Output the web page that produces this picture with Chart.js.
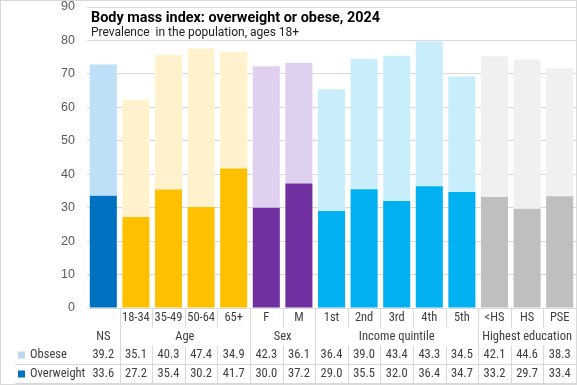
<!DOCTYPE html>
<html><head><meta charset="utf-8">
<script src="https://cdn.jsdelivr.net/npm/chart.js@4/dist/chart.umd.min.js"></script>
<style>html,body{margin:0;padding:0;background:#fff}#wrap{width:577px;height:385px;position:relative}</style>
</head><body><div id="wrap"><canvas id="c" width="577" height="385"></canvas></div>
<script>
const categories = ["NS","18-34","35-49","50-64","65+","F","M","1st","2nd","3rd","4th","5th","<HS","HS","PSE"];
const groupNames = ["", "Age", "Sex", "Income quintile", "Highest education"];
const groupOf = [0,1,1,1,1,2,2,3,3,3,3,3,4,4,4];
const obese = [39.2,35.1,40.3,47.4,34.9,42.3,36.1,36.4,39.0,43.4,43.3,34.5,42.1,44.6,38.3];
const overweight = [33.6,27.2,35.4,30.2,41.7,30.0,37.2,29.0,35.5,32.0,36.4,34.7,33.2,29.7,33.4];
const yTicks = [0,10,20,30,40,50,60,70,80,90];
const titleText = "Body mass index: overweight or obese, 2024";
const subtitleText = "Prevalence  in the population, ages 18+";

const darkColors = ["#0070C0","#FFC000","#7030A0","#00B0F0","#BFBFBF"];
const lightColors = ["#BDDFF8","#FFF2CC","#E0D0F0","#C8EEFC","#F0F0F0"];

const tableFont = "12.5px 'Liberation Sans Narrow', 'Roboto Condensed', Roboto, sans-serif";
const tableColor = "#404040";
const lineColor = "#d9d9d9";

const tablePlugin = {
  id: 'tablePlugin',
  beforeDatasetsDraw(chart) {
    const ctx = chart.ctx, y = chart.scales.y, a = chart.chartArea;
    const y90 = y.getPixelForValue(90), y80 = y.getPixelForValue(80);
    ctx.save();
    ctx.fillStyle = "#fff";
    ctx.fillRect(a.left + 1, y90 + 1, a.right - a.left - 1, y80 - y90 - 2);
    ctx.fillStyle = "#000";
    ctx.textBaseline = "middle";
    ctx.textAlign = "left";
    ctx.font = "bold 14.4px Roboto, sans-serif";
    ctx.fillText(titleText, a.left + 4, y90 + 11);
    ctx.font = "12px Roboto, sans-serif";
    ctx.fillStyle = "#222";
    ctx.fillText(subtitleText, a.left + 4, y90 + 26);
    ctx.restore();
  },
  afterDraw(chart) {
    const ctx = chart.ctx, x = chart.scales.x, a = chart.chartArea;
    const n = categories.length;
    const half = (x.getPixelForValue(1) - x.getPixelForValue(0)) / 2;
    const row1 = a.bottom + 10, row2 = a.bottom + 29, row3 = a.bottom + 47, row4 = a.bottom + 66;
    const r1b = a.bottom + 19.5, r2b = a.bottom + 37.5, r3b = a.bottom + 56.5, r4b = a.bottom + 75.5;
    ctx.save();
    ctx.strokeStyle = lineColor; ctx.lineWidth = 1;
    const line = (x1,y1,x2,y2)=>{ctx.beginPath();ctx.moveTo(x1,y1);ctx.lineTo(x2,y2);ctx.stroke();};
    line(a.left, a.bottom + 0.5, a.right, a.bottom + 0.5);
    line(15, r3b, a.right, r3b);
    line(15, r4b, a.right, r4b);
    for (let i = 1; i <= n; i++) {
      const bx = Math.round(x.getPixelForValue(i - 1) + half) + 0.5;
      const groupBoundary = i === n || groupOf[i] !== groupOf[i - 1];
      if (groupBoundary) {
        line(bx, a.bottom, bx, r4b);
      } else {
        line(bx, a.bottom, bx, r1b);
        line(bx, r2b, bx, r4b);
      }
    }
    ctx.font = tableFont; ctx.fillStyle = tableColor;
    ctx.textBaseline = "middle"; ctx.textAlign = "center";
    for (let i = 0; i < n; i++) {
      const cx = x.getPixelForValue(i);
      if (i === 0) ctx.fillText(categories[i], cx, row2);
      else ctx.fillText(categories[i], cx, row1);
      ctx.fillText(obese[i].toFixed(1), cx, row3);
      ctx.fillText(overweight[i].toFixed(1), cx, row4);
    }
    for (let g = 1; g < groupNames.length; g++) {
      const idx = groupOf.map((v,i)=>v===g?i:-1).filter(i=>i>=0);
      const c = (x.getPixelForValue(idx[0]) + x.getPixelForValue(idx[idx.length-1])) / 2;
      ctx.fillText(groupNames[g], c, row2);
    }
    ctx.textAlign = "left";
    ctx.fillStyle = "#BDD7EE"; ctx.fillRect(18, row3 - 3.5, 7, 7);
    ctx.fillStyle = "#0070C0"; ctx.fillRect(18, row4 - 3.5, 7, 7);
    ctx.fillStyle = tableColor;
    ctx.fillText("Obsese", 30, row3);
    ctx.fillText("Overweight", 30, row4);
    ctx.strokeStyle = lineColor;
    ctx.strokeRect(0.5, 0.5, chart.width - 1, chart.height - 1);
    ctx.restore();
  }
};

new Chart(document.getElementById('c'), {
  type: 'bar',
  data: {
    labels: categories,
    datasets: [
      { label: 'Overweight', data: overweight, backgroundColor: groupOf.map(g=>darkColors[g]), barPercentage: 0.83, categoryPercentage: 1 },
      { label: 'Obsese', data: obese, backgroundColor: groupOf.map(g=>lightColors[g]), barPercentage: 0.83, categoryPercentage: 1 }
    ]
  },
  options: {
    responsive: false, animation: false,
    layout: { padding: { top: 7, right: 1, bottom: 77, left: 0 } },
    plugins: { legend: { display: false }, tooltip: { enabled: false }, title: { display: false } },
    scales: {
      x: { stacked: true, display: false },
      y: {
        stacked: true, min: 0, max: 90,
        afterBuildTicks: s => { s.ticks = yTicks.map(v => ({ value: v })); },
        afterFit: s => { s.width = 87; s.paddingTop = 0; s.paddingBottom = 0; },
        grid: { color: lineColor, drawTicks: false },
        border: { display: false },
        ticks: { padding: 12, color: '#595959', font: { family: "'Liberation Sans', Arial, sans-serif", size: 12.5 } }
      }
    }
  },
  plugins: [tablePlugin]
});
</script></body></html>
